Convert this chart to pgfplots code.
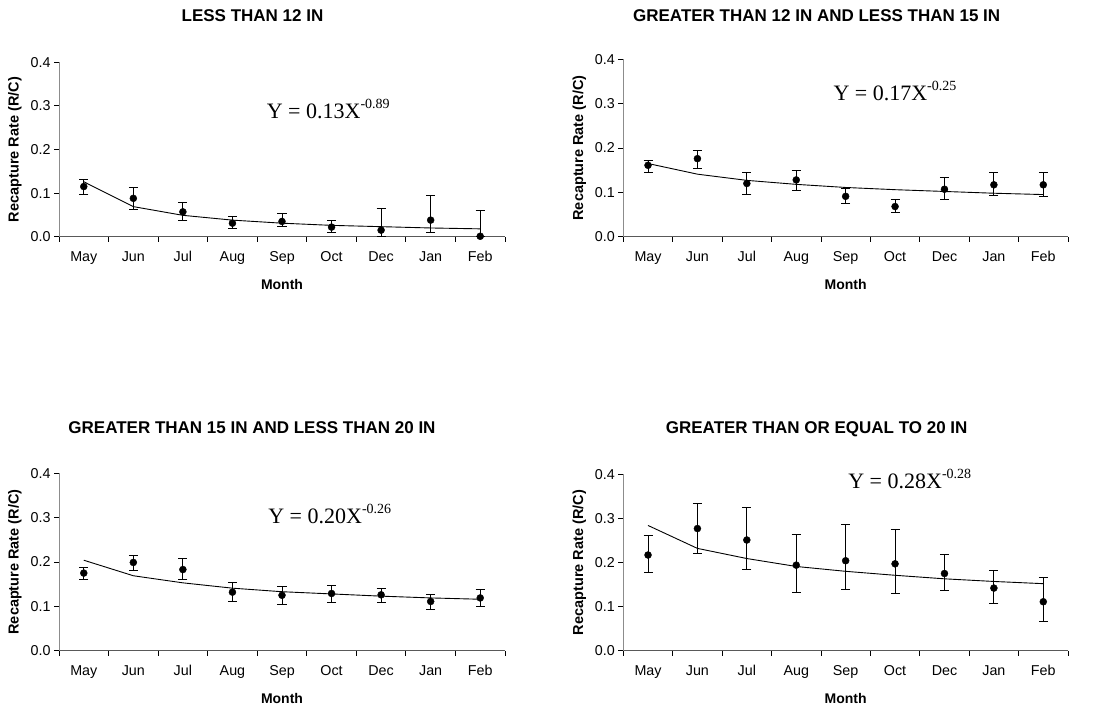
\documentclass[border=0pt]{standalone}
\usepackage{fontspec}
\setmainfont{Liberation Sans}
\newfontfamily\timesfont{Liberation Serif}
\usepackage{pgfplots}
\usepackage{pgfplotstable}
\pgfplotsset{compat=1.18}

% x y ep em fit
\pgfplotstableread{
x y ep em fit
1 0.115 0.017 0.019 0.126
2 0.088 0.024 0.025 0.069
3 0.057 0.022 0.020 0.049
4 0.031 0.016 0.013 0.038
5 0.035 0.018 0.011 0.031
6 0.022 0.015 0.011 0.026
7 0.015 0.051 0.015 0.023
8 0.038 0.057 0.027 0.020
9 0.001 0.059 0.001 0.018
}\dataA
\pgfplotstableread{
x y ep em fit
1 0.161 0.012 0.015 0.165
2 0.176 0.019 0.022 0.141
3 0.120 0.024 0.025 0.127
4 0.128 0.022 0.023 0.118
5 0.091 0.018 0.016 0.111
6 0.068 0.015 0.014 0.106
7 0.107 0.026 0.024 0.102
8 0.117 0.027 0.024 0.098
9 0.117 0.029 0.027 0.095
}\dataB
\pgfplotstableread{
x y ep em fit
1 0.175 0.012 0.014 0.204
2 0.199 0.017 0.017 0.169
3 0.183 0.025 0.022 0.153
4 0.132 0.021 0.020 0.141
5 0.125 0.019 0.020 0.133
6 0.129 0.019 0.021 0.128
7 0.126 0.015 0.018 0.123
8 0.111 0.017 0.017 0.119
9 0.119 0.019 0.018 0.116
}\dataC
\pgfplotstableread{
x y ep em fit
1 0.217 0.044 0.039 0.284
2 0.277 0.056 0.056 0.232
3 0.251 0.073 0.066 0.209
4 0.194 0.069 0.061 0.191
5 0.204 0.083 0.065 0.180
6 0.197 0.077 0.067 0.171
7 0.175 0.044 0.039 0.163
8 0.142 0.040 0.035 0.157
9 0.111 0.055 0.044 0.152
}\dataD

\pgfplotsset{
  panel/.style={
    scale only axis,
    anchor=south west,
    clip=false,
    xmin=0.5, xmax=9.5, ymin=0, ymax=0.4,
    axis lines*=left,
    x axis line style={draw=black!65, line width=0.8pt},
    y axis line style={draw=black!45, line width=0.8pt},
    tick align=outside,
    major tick length=5bp,
    tick style={black, line width=0.8pt},
    xtick={0.5,1.5,...,9.5},
    xticklabels={},
    extra x ticks={1,2,3,4,5,6,7,8,9},
    extra x tick labels={May,Jun,Jul,Aug,Sep,Oct,Dec,Jan,Feb},
    extra x tick style={major tick length=0pt, tick style={draw=none}},
    xticklabel style={text height=10bp, text depth=3bp, yshift=-11bp},
    ytick={0,0.1,0.2,0.3,0.4},
    /pgf/number format/assume math mode=true,
    yticklabel style={/pgf/number format/.cd, fixed, fixed zerofill, precision=1},
    tick label style={font=\fontsize{14.3bp}{16bp}\selectfont},
    xlabel={Month},
    ylabel={Recapture Rate (R/C)},
    xlabel style={font=\bfseries\fontsize{14bp}{16bp}\selectfont, at={(axis description cs:0.5,0)}, anchor=center, yshift=-48bp},
    ylabel style={font=\bfseries\fontsize{14.5bp}{16bp}\selectfont, at={(axis description cs:0,0.5)}, anchor=center, rotate=0, yshift=44bp},
  },
  pts/.style={only marks, mark=*, mark size=3.5bp, black,
    error bars/.cd, y dir=both, y explicit,
    error bar style={black, line width=0.8pt},
    error mark options={black, rotate=90, mark size=4.5bp, line width=0.8pt}},
  fitline/.style={black, line width=0.9pt, no marks},
}

\newcommand{\eqn}[2]{\timesfont\fontsize{22bp}{22bp}\selectfont Y = #1X\raisebox{10bp}{\fontsize{14bp}{14bp}\selectfont #2}}

\begin{document}
\begin{tikzpicture}
\useasboundingbox (0,0) rectangle (1101bp,710bp);

\node[font=\bfseries\fontsize{17bp}{19bp}\selectfont] at (252.5bp,694bp) {LESS THAN 12 IN};
\node[font=\bfseries\fontsize{17bp}{19bp}\selectfont] at (816.7bp,694bp) {GREATER THAN 12 IN AND LESS THAN 15 IN};
\node[font=\bfseries\fontsize{17bp}{19bp}\selectfont] at (252bp,282bp) {GREATER THAN 15 IN AND LESS THAN 20 IN};
\node[font=\bfseries\fontsize{17bp}{19bp}\selectfont] at (816.7bp,281bp) {GREATER THAN OR EQUAL TO 20 IN};

\begin{axis}[panel, at={(59bp,473.3bp)}, width=446bp, height=174.4bp]
  \addplot[fitline] table[x=x, y=fit] \dataA;
  \addplot[pts] table[x=x, y=y, y error plus=ep, y error minus=em] \dataA;
  \node[anchor=base west, inner sep=0pt] at (axis cs:4.69,0.270) {\eqn{0.13}{-0.89}};
\end{axis}

\begin{axis}[panel, at={(623.3bp,473.3bp)}, width=444.7bp, height=177.4bp]
  \addplot[fitline] table[x=x, y=fit] \dataB;
  \addplot[pts] table[x=x, y=y, y error plus=ep, y error minus=em] \dataB;
  \node[anchor=base west, inner sep=0pt] at (axis cs:4.75,0.308) {\eqn{0.17}{-0.25}};
\end{axis}

\begin{axis}[panel, at={(59bp,59.3bp)}, width=446bp, height=177.4bp]
  \addplot[fitline] table[x=x, y=fit] \dataC;
  \addplot[pts] table[x=x, y=y, y error plus=ep, y error minus=em] \dataC;
  \node[anchor=base west, inner sep=0pt] at (axis cs:4.72,0.286) {\eqn{0.20}{-0.26}};
\end{axis}

\begin{axis}[panel, at={(623.3bp,59.3bp)}, width=444.7bp, height=176.4bp]
  \addplot[fitline] table[x=x, y=fit] \dataD;
  \addplot[pts] table[x=x, y=y, y error plus=ep, y error minus=em] \dataD;
  \node[anchor=base west, inner sep=0pt] at (axis cs:5.05,0.368) {\eqn{0.28}{-0.28}};
\end{axis}
\end{tikzpicture}
\end{document}
